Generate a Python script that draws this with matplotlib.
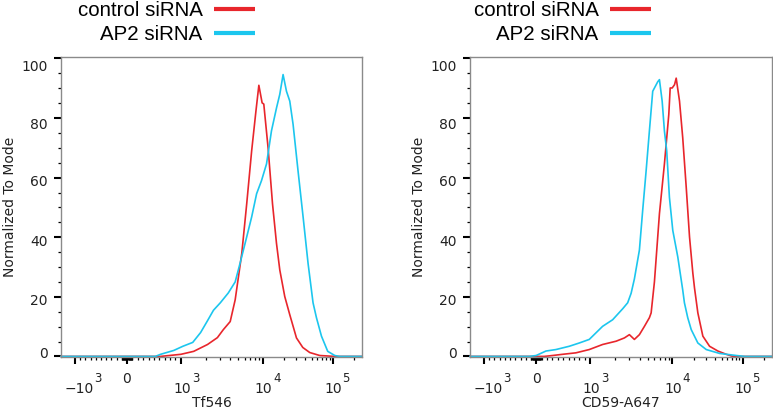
import matplotlib

matplotlib.use("Agg")

import matplotlib.pyplot as plt
import matplotlib.transforms as mtransforms
from matplotlib.lines import Line2D
import numpy as np

CONTROL_COLOR = "#e8262c"
AP2_COLOR = "#1cc6ee"
SERIES_NAMES = ["control siRNA", "AP2 siRNA"]
X_LABELS = ["Tf546", "CD59-A647"]
Y_LABEL = "Normalized To Mode"

# Tf546 panel, fluorescence intensity vs normalized count
tf_control_x = [-1475, 0, 623, 1000, 1435, 2115, 2790, 3300, 4000, 4600, 5540, 6360, 7310,
                8240, 8950, 9810, 10330, 11900, 13770, 15700, 17500, 20600, 24300, 30300,
                37300, 46900, 65200, 107000, 262144]
tf_control_y = [0, 0, 0, 0.7, 1.7, 4, 6.3, 9, 11.7, 19, 34.6, 51.2, 69,
                82.3, 91, 85.1, 84.7, 70, 51.2, 37.9, 29, 20.1, 14, 6.2,
                3, 1.3, 0.3, 0, 0]
tf_ap2_x = [-1475, 528, 623, 868, 1057, 1395, 1740, 2115, 2500, 3030, 3790, 4600, 5280,
            6360, 7310, 8400, 9640, 11300, 13300, 15700, 17500, 19500, 21800, 24300,
            27100, 31900, 37700, 44400, 52300, 58500, 69000, 84800, 107000, 126000, 262144]
tf_ap2_y = [0, 0, 0.7, 2, 3.4, 4.7, 8, 12, 15.5, 18, 21.3, 25, 31.3,
            40.1, 46.8, 54.6, 59, 64.6, 75.7, 83.4, 88, 94.6, 89, 85.7,
            77.9, 62.3, 46.8, 31.2, 18, 13, 6.8, 1.7, 0.3, 0, 0]

# CD59-A647 panel
cd59_control_x = [-1475, 150, 302, 487, 735, 981, 1413, 2060, 2600, 2990, 3440, 3960, 4560,
                  5240, 5500, 6030, 6940, 7980, 9020, 9380, 9920, 10700, 11300, 12600,
                  14000, 15700, 17500, 19500, 20600, 23000, 27100, 33800, 44400, 58500,
                  72600, 262144]
cd59_control_y = [0, 0, 0.3, 0.7, 1.2, 2.3, 4, 5.1, 6.2, 7.3, 5.7, 7.3, 10.1,
                  13, 14.6, 25, 47.9, 64.6, 81.2, 90.1, 90.1, 91.2, 93.4, 85.7,
                  73.4, 56.8, 40.1, 28, 23, 14.6, 6.8, 3.4, 1.8, 0.7,
                  0, 0]
cd59_ap2_x = [-1475, -130, 0, 180, 365, 611, 796, 981, 1413, 1870, 2480, 2850, 3140, 3440,
              3960, 4340, 4780, 5240, 5750, 6620, 6940, 7490, 7980, 8510, 9180, 10100,
              11900, 14000, 14800, 16500, 18500, 23000, 30300, 46900, 81300, 107000, 262144]
cd59_ap2_y = [0, 0, 0.3, 1.8, 2.3, 3.4, 4.5, 5.7, 10.1, 12.3, 16, 18, 21.2, 26,
              35.7, 49, 62.3, 75.7, 89, 92.2, 92.9, 85.7, 75.7, 69, 53.4, 42.3,
              33.4, 22.3, 18, 13, 9, 4.5, 2.3, 1, 0.3, 0, 0]

X_RANGE = (-1475, 262144)
MAJOR_TICKS = [-1000, 0, 1000, 10000, 100000]
MAJOR_BASES = ["\u221210", "0", "10", "10", "10"]
MAJOR_EXPONENTS = ["3", "", "3", "4", "5"]
MINOR_TICKS = (list(range(-900, 0, 100)) + list(range(-90, 0, 10)) + list(range(10, 100, 10))
               + list(range(100, 1000, 100)) + list(range(2000, 10000, 1000))
               + list(range(20000, 100000, 10000)) + [200000])

# biexponential display: decade coordinate -> pixels from zero
DECADE_G = np.array([-4.0, -1.0, 0.0, 1.0, 2.0, 3.0, 5.0])
DECADE_PX = np.array([-301.0, -52.0, 0.0, 54.0, 136.0, 206.0, 346.0])


def to_decades(x):
    x = np.asarray(x, dtype=float)
    mag = np.abs(x)
    logpart = 1.0 + np.log10(np.maximum(mag, 1000.0) / 1000.0)
    return np.where(mag <= 1000.0, x / 1000.0, np.sign(x) * logpart)


def from_decades(g):
    g = np.asarray(g, dtype=float)
    mag = np.abs(g)
    return np.where(mag <= 1.0, g * 1000.0,
                    np.sign(g) * 1000.0 * 10 ** (np.maximum(mag, 1.0) - 1.0))


def biex_forward(x):
    return np.interp(to_decades(x), DECADE_G, DECADE_PX)


def biex_inverse(p):
    return from_decades(np.interp(p, DECADE_PX, DECADE_G))


def px_offset(fig, dx, dy):
    return mtransforms.ScaledTranslation(dx / 100.0, -dy / 100.0, fig.dpi_scale_trans)


def shift_labels(fig, labels, dx_px=None, dy_px=None):
    n = len(labels)
    dx_px = dx_px or [0] * n
    dy_px = dy_px or [0] * n
    for label, dx, dy in zip(labels, dx_px, dy_px):
        label.set_transform(label.get_transform() + px_offset(fig, dx, dy))


def draw_panel(fig, rect, control, ap2, xlabel, legend_right_px):
    ax = fig.add_axes(rect)
    ax.plot(control[0], control[1], color=CONTROL_COLOR, lw=1.2, clip_on=False)
    ax.plot(ap2[0], ap2[1], color=AP2_COLOR, lw=1.2, clip_on=False)
    ax.set_xscale("function", functions=(biex_forward, biex_inverse))
    ax.set_xlim(*X_RANGE)
    ax.set_ylim(-0.2, 100.5)

    ax.set_xticks(MAJOR_TICKS, MAJOR_BASES)
    ax.set_xticks(MINOR_TICKS, minor=True)
    ax.set_yticks([0, 20, 40, 60, 80, 100])
    ax.set_yticks(np.arange(5, 100, 5), minor=True)
    ax.tick_params(which="major", length=5, width=1.5, color="black", direction="out",
                   labelsize=10, labelcolor="#222222")
    ax.tick_params(which="minor", length=2.2, width=0.9, color="black", direction="out")
    ax.tick_params(axis="x", which="major", pad=12.8)
    ax.tick_params(axis="y", which="major", pad=4.5)
    for spine in ax.spines.values():
        spine.set_color("#8a8a8a")
        spine.set_linewidth(1.0)

    ax.set_xlabel(xlabel, fontsize=10, color="#222222", labelpad=0.2)
    ax.set_ylabel(Y_LABEL, fontsize=10, color="#222222", labelpad=3)

    shift_labels(fig, ax.get_xticklabels(), dx_px=[4.5, 0, 1, 0.5, 1], dy_px=[0, -10, 0, 0, 0])
    shift_labels(fig, ax.get_yticklabels(), dy_px=[-4, 3, 3, 3, 5, 7])

    # decade exponents sit up and to the right of each "10"
    base = mtransforms.blended_transform_factory(ax.transData, ax.transAxes)
    exp_dx = [23, 0, 14.5, 14, 13.5]
    for tick, exponent, dx in zip(MAJOR_TICKS, MAJOR_EXPONENTS, exp_dx):
        if exponent:
            ax.text(tick, 0, exponent, transform=base + px_offset(fig, dx, 21.5),
                    ha="center", va="center", fontsize=8.5, color="#222222", clip_on=False)

    handles = [Line2D([], [], color=CONTROL_COLOR, lw=3, solid_capstyle="butt"),
               Line2D([], [], color=AP2_COLOR, lw=3, solid_capstyle="butt")]
    ax.legend(handles, SERIES_NAMES, loc="upper right",
              bbox_to_anchor=(legend_right_px / 773, 0.997), bbox_transform=fig.transFigure,
              frameon=False, markerfirst=False,
              prop={"family": "Liberation Sans", "size": 14.8},
              handlelength=2.0, handletextpad=0.55, labelspacing=0.25,
              borderpad=0, borderaxespad=0)
    return ax


fig = plt.figure(figsize=(7.73, 4.11), dpi=100)
draw_panel(fig, [61 / 773, 1 - 357 / 411, 301 / 773, 300 / 411],
           (tf_control_x, tf_control_y), (tf_ap2_x, tf_ap2_y), X_LABELS[0], 255)
draw_panel(fig, [470 / 773, 1 - 357 / 411, 302 / 773, 300 / 411],
           (cd59_control_x, cd59_control_y), (cd59_ap2_x, cd59_ap2_y), X_LABELS[1], 651)
fig.savefig("out.png", dpi=100)
